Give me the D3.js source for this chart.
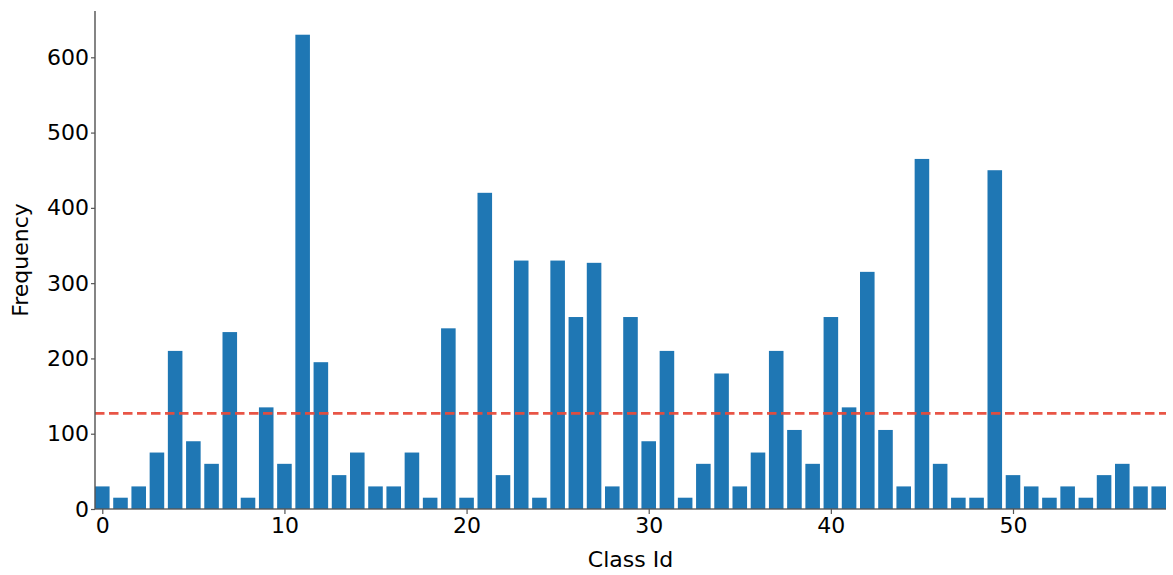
<!DOCTYPE html>
<html>
<head>
<meta charset="utf-8">
<script src="https://cdn.jsdelivr.net/npm/d3@7"></script>
<style>
  html, body { margin: 0; padding: 0; background: #fff; }
  svg { display: block; }
  text { font-family: "DejaVu Sans", sans-serif; fill: #000; }
</style>
</head>
<body>
<svg id="chart" width="1173" height="575"></svg>
<script>
const classIds = d3.range(0, 59);
const frequencies = [
  30, 15, 30, 75, 210, 90, 60, 235, 15, 135,
  60, 630, 195, 45, 75, 30, 30, 75, 15, 240,
  15, 420, 45, 330, 15, 330, 255, 327, 30, 255,
  90, 210, 15, 60, 180, 30, 75, 210, 105, 60,
  255, 135, 315, 105, 30, 465, 60, 15, 15, 450,
  45, 30, 15, 30, 15, 45, 60, 30, 30
];
const xTicks = [0, 10, 20, 30, 40, 50];
const yTicks = [0, 100, 200, 300, 400, 500, 600];
const xLabel = "Class Id";
const yLabel = "Frequency";

const meanValue = d3.mean(frequencies);

const svg = d3.select("#chart");
const margin = { left: 95, right: 7, top: 11, bottom: 66 };
const W = 1173, H = 575;

const x = d3.scaleLinear()
  .domain([-0.4, 58.4])
  .range([margin.left, W - margin.right]);
const yMax = d3.max(frequencies) * 1.05;
const y = d3.scaleLinear()
  .domain([0, yMax])
  .range([H - margin.bottom, margin.top]);

const barW = 0.8;

svg.append("g")
  .selectAll("rect")
  .data(classIds)
  .join("rect")
  .attr("x", d => x(d - barW / 2))
  .attr("width", d => x(d + barW / 2) - x(d - barW / 2))
  .attr("y", d => y(frequencies[d]))
  .attr("height", d => y(0) - y(frequencies[d]))
  .attr("fill", "#1f77b4");

// mean line
svg.append("line")
  .attr("x1", x(-0.4)).attr("x2", x(58.4))
  .attr("y1", y(meanValue)).attr("y2", y(meanValue))
  .attr("stroke", "#e74c3c")
  .attr("stroke-opacity", 0.95)
  .attr("stroke-width", 2.6)
  .attr("stroke-dasharray", "9.5,4.5");

// axes
const xAxis = d3.axisBottom(x).tickValues(xTicks).tickSize(5).tickPadding(3).tickFormat(d3.format("d"));
const yAxis = d3.axisLeft(y).tickValues(yTicks).tickSize(4).tickPadding(2).tickFormat(d3.format("d"));

const gx = svg.append("g")
  .attr("transform", `translate(0,${y(0)})`)
  .call(xAxis);
const gy = svg.append("g")
  .attr("transform", `translate(${x(-0.4)},0)`)
  .call(yAxis);

[gx, gy].forEach(g => {
  g.select(".domain").attr("stroke", "#555").attr("stroke-width", 1.6).attr("stroke-opacity", 0.9);
  g.selectAll(".tick line").attr("stroke", "#555").attr("stroke-width", 1.2);
  g.selectAll(".tick text")
    .attr("font-family", "DejaVu Sans, sans-serif")
    .attr("font-size", 22)
    .attr("fill", "#000");
});
gx.select(".domain").attr("d", `M${x(-0.4)},0H${x(58.4)}`);
gy.select(".domain").attr("d", `M0,${y(yMax)}V${y(0)}`);

svg.append("text")
  .attr("x", (x(-0.4) + x(58.4)) / 2)
  .attr("y", 567)
  .attr("text-anchor", "middle")
  .attr("font-size", 22)
  .text(xLabel);

svg.append("text")
  .attr("transform", `translate(28,${(y(0) + y(yMax)) / 2}) rotate(-90)`)
  .attr("text-anchor", "middle")
  .attr("font-size", 22)
  .text(yLabel);
</script>
</body>
</html>
